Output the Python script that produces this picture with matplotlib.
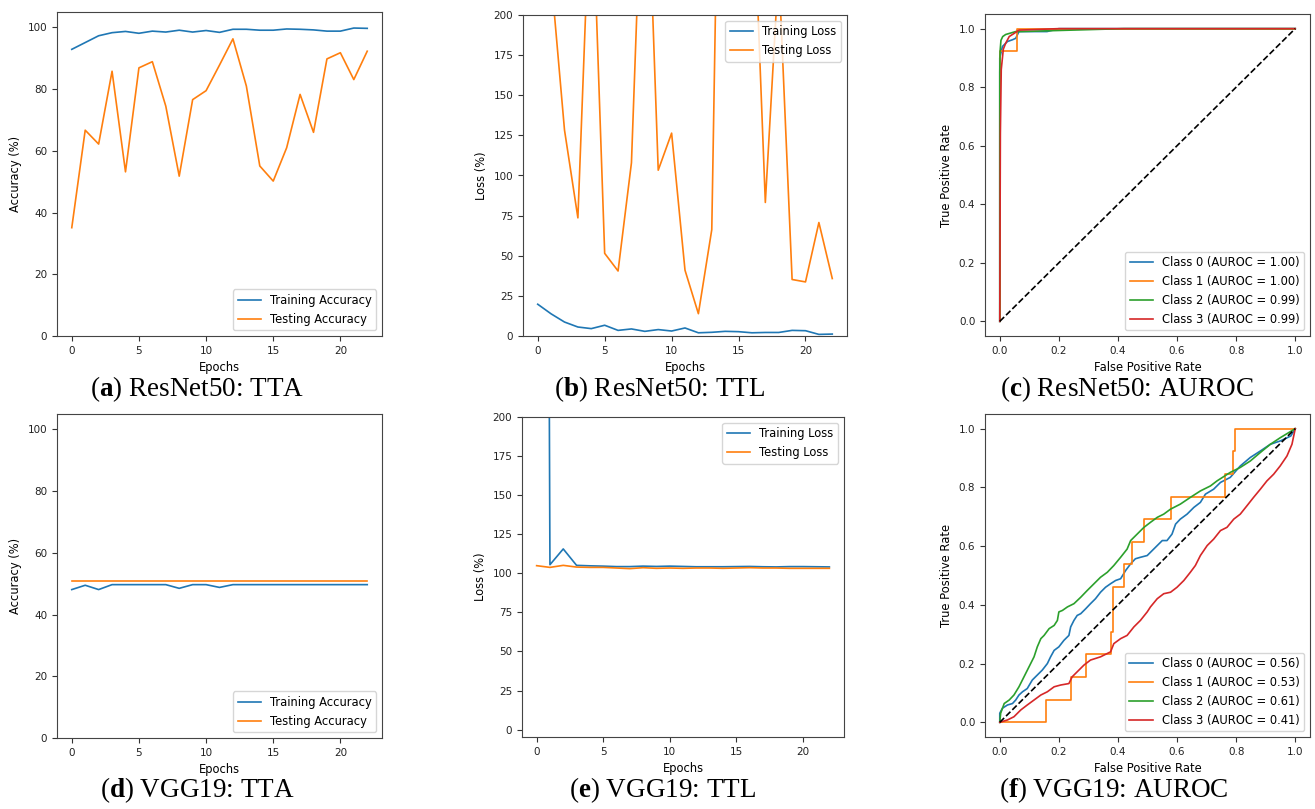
import matplotlib
matplotlib.use('Agg')
import matplotlib.pyplot as plt
import numpy as np

plt.rcParams['font.size'] = 8.3
plt.rcParams['mathtext.fontset'] = 'custom'
plt.rcParams['mathtext.bf'] = 'Liberation Serif:bold'
plt.rcParams['mathtext.rm'] = 'Liberation Serif'

epochs = list(range(23))

# ResNet50
res_train_acc = [92.9, 95.1, 97.3, 98.3, 98.7, 98.1, 98.8, 98.5, 99.1, 98.5, 99.0, 98.4,
                 99.4, 99.4, 99.1, 99.1, 99.5, 99.4, 99.2, 98.8, 98.8, 99.8, 99.7]
res_test_acc = [35.1, 66.7, 62.2, 85.8, 53.2, 86.9, 88.9, 74.5, 51.8, 76.6, 79.5, 87.8,
                96.3, 81.0, 55.1, 50.2, 61.0, 78.3, 66.0, 89.8, 91.8, 83.1, 92.3]
res_train_loss = [19.8, 13.8, 8.7, 5.6, 4.6, 6.7, 3.5, 4.4, 2.9, 4.0, 3.1, 5.0,
                  2.0, 2.3, 2.9, 2.7, 2.0, 2.2, 2.2, 3.5, 3.3, 1.0, 1.2]
res_test_loss = [300, 224, 128.3, 73.6, 295, 51.5, 40.5, 107.9, 340, 103.3, 126.4, 41.0,
                 13.9, 66.3, 560, 420, 300, 83.2, 230, 35.2, 33.7, 70.7, 35.8]

# VGG19
vgg_train_acc = [48.1, 49.5, 48.1, 49.7, 49.7, 49.7, 49.7, 49.7, 48.5, 49.7, 49.7, 48.8,
                 49.7, 49.7, 49.7, 49.7, 49.7, 49.7, 49.7, 49.7, 49.7, 49.7, 49.7]
vgg_test_acc = [50.9] * 23
vgg_train_loss = [2250, 105.5, 115.6, 105.1, 104.8, 104.6, 104.3, 104.3, 104.6, 104.4, 104.6, 104.4,
                  104.2, 104.2, 104.2, 104.3, 104.4, 104.2, 104.1, 104.3, 104.3, 104.2, 104.1]
vgg_test_loss = [104.9, 103.8, 105.1, 104.0, 103.8, 103.8, 103.4, 103.0, 103.6, 103.2, 103.4, 103.2,
                 103.4, 103.4, 103.2, 103.4, 103.6, 103.4, 103.4, 103.2, 103.2, 103.2, 103.2]

# ROC ResNet50
res_auroc = [1.00, 1.00, 0.99, 0.99]
res_fpr0 = [0, 0, 0.009, 0.026, 0.043, 0.054, 0.065, 0.16, 0.2, 1]
res_tpr0 = [0, 0.90, 0.939, 0.956, 0.962, 0.967, 0.99, 0.99, 1.0, 1]
res_fpr1 = [0, 0, 0.057, 0.057, 1]
res_tpr1 = [0, 0.925, 0.925, 1.0, 1]
res_fpr2 = [0, 0, 0.001, 0.004, 0.01, 0.02, 0.054, 0.07, 0.42, 1]
res_tpr2 = [0, 0.85, 0.922, 0.96, 0.973, 0.98, 0.99, 0.99, 1.0, 1]
res_fpr3 = [0, 0.002, 0.005, 0.009, 0.012, 0.02, 0.032, 0.049, 0.065, 0.2, 1]
res_tpr3 = [0, 0.64, 0.86, 0.90, 0.93, 0.95, 0.973, 0.984, 0.995, 1.0, 1]

# ROC VGG19
vgg_auroc = [0.56, 0.53, 0.61, 0.41]
vgg_fpr0 = [0, 0, 0.009, 0.026, 0.043, 0.054, 0.065, 0.077, 0.093, 0.110, 0.127, 0.144, 0.161,
            0.172, 0.184, 0.200, 0.217, 0.234, 0.240, 0.251, 0.262, 0.274, 0.291, 0.307, 0.324,
            0.341, 0.358, 0.375, 0.392, 0.409, 0.426, 0.443, 0.459, 0.476, 0.499, 0.516, 0.533,
            0.550, 0.566, 0.583, 0.595, 0.611, 0.634, 0.657, 0.679, 0.696, 0.724, 0.747, 0.780,
            0.814, 0.848, 0.882, 0.916, 0.949, 0.985, 1]
vgg_tpr0 = [0, 0.031, 0.048, 0.059, 0.064, 0.076, 0.093, 0.104, 0.115, 0.144, 0.161, 0.178, 0.200,
            0.223, 0.245, 0.257, 0.279, 0.296, 0.325, 0.347, 0.364, 0.370, 0.387, 0.404, 0.421,
            0.443, 0.460, 0.472, 0.483, 0.489, 0.517, 0.540, 0.557, 0.562, 0.568, 0.585, 0.602,
            0.619, 0.619, 0.641, 0.675, 0.692, 0.709, 0.732, 0.749, 0.777, 0.794, 0.817, 0.834,
            0.873, 0.902, 0.924, 0.947, 0.958, 0.975, 1]
vgg_fpr1 = [0, 0.158, 0.158, 0.242, 0.242, 0.291, 0.291, 0.375, 0.375, 0.383, 0.383, 0.42, 0.42,
            0.448, 0.448, 0.488, 0.488, 0.581, 0.581, 0.761, 0.761, 0.789, 0.789, 0.797, 0.797, 1]
vgg_tpr1 = [0, 0, 0.077, 0.077, 0.154, 0.154, 0.231, 0.231, 0.308, 0.308, 0.462, 0.462, 0.538,
            0.538, 0.615, 0.615, 0.692, 0.692, 0.769, 0.769, 0.846, 0.846, 0.923, 0.923, 1.0, 1]
vgg_fpr2 = [0, 0.003, 0.015, 0.032, 0.048, 0.065, 0.082, 0.099, 0.116, 0.127, 0.139, 0.150, 0.167,
            0.184, 0.195, 0.200, 0.212, 0.229, 0.251, 0.274, 0.296, 0.319, 0.341, 0.364, 0.386,
            0.409, 0.431, 0.443, 0.465, 0.488, 0.510, 0.533, 0.555, 0.578, 0.611, 0.645, 0.679,
            0.713, 0.735, 0.780, 0.814, 0.848, 0.882, 0.916, 0.949, 1]
vgg_tpr2 = [0, 0.031, 0.064, 0.076, 0.093, 0.121, 0.155, 0.189, 0.223, 0.257, 0.285, 0.296, 0.319,
            0.330, 0.347, 0.376, 0.381, 0.393, 0.404, 0.426, 0.449, 0.472, 0.494, 0.511, 0.534,
            0.562, 0.590, 0.619, 0.641, 0.664, 0.681, 0.698, 0.709, 0.726, 0.743, 0.766, 0.788,
            0.805, 0.822, 0.851, 0.868, 0.890, 0.919, 0.947, 0.969, 1]
vgg_fpr3 = [0, 0.026, 0.048, 0.071, 0.093, 0.116, 0.139, 0.161, 0.184, 0.206, 0.234, 0.245, 0.262,
            0.285, 0.307, 0.341, 0.375, 0.386, 0.409, 0.431, 0.454, 0.476, 0.499, 0.510, 0.533,
            0.555, 0.578, 0.600, 0.623, 0.645, 0.662, 0.679, 0.702, 0.724, 0.747, 0.769, 0.792,
            0.814, 0.837, 0.859, 0.882, 0.904, 0.927, 0.949, 0.972, 0.989, 1]
vgg_tpr3 = [0, 0.008, 0.019, 0.042, 0.059, 0.076, 0.093, 0.104, 0.121, 0.127, 0.132, 0.155, 0.172,
            0.195, 0.212, 0.223, 0.240, 0.268, 0.285, 0.296, 0.325, 0.347, 0.376, 0.393, 0.421,
            0.438, 0.443, 0.460, 0.483, 0.511, 0.534, 0.568, 0.602, 0.624, 0.653, 0.664, 0.692,
            0.709, 0.738, 0.766, 0.794, 0.822, 0.845, 0.873, 0.907, 0.947, 1]

captions = [('a', 'ResNet50: TTA'), ('b', 'ResNet50: TTL'), ('c', 'ResNet50: AUROC'),
            ('d', 'VGG19: TTA'), ('e', 'VGG19: TTL'), ('f', 'VGG19: AUROC')]

W, H = 1315, 809
fig = plt.figure(figsize=(W / 100, H / 100), dpi=100)


def box(l, t, r, b):
    return [l / W, 1 - b / H, (r - l) / W, (b - t) / H]


def style(ax):
    for s in ax.spines.values():
        s.set_color('#444444')
    ax.tick_params(labelsize=7.5, colors='#333333', labelcolor='#222222')


def plot_acc(ax, tr, te):
    ax.plot(epochs, tr, lw=1.2, label='Training Accuracy')
    ax.plot(epochs, te, lw=1.2, label='Testing Accuracy')
    ax.set_ylim(0, 105)
    ax.set_xlabel('Epochs')
    ax.set_ylabel('Accuracy (%)')
    ax.legend(loc='lower right')
    style(ax)


def plot_loss(ax, tr, te, ylim):
    ax.plot(epochs, tr, lw=1.2, label='Training Loss')
    ax.plot(epochs, te, lw=1.2, label='Testing Loss')
    ax.set_ylim(*ylim)
    ax.set_xlabel('Epochs')
    ax.set_ylabel('Loss (%)')
    ax.legend(loc='upper right')
    style(ax)


def plot_roc(ax, fprs, tprs, aucs):
    for i, (f, t, a) in enumerate(zip(fprs, tprs, aucs)):
        ax.plot(f, t, lw=1.2, label=f'Class {i} (AUROC = {a:.2f})')
    ax.plot([0, 1], [0, 1], 'k--', lw=1.2)
    ax.set_xlabel('False Positive Rate')
    ax.set_ylabel('True Positive Rate')
    ax.legend(loc='lower right')
    style(ax)


ax_a = fig.add_axes(box(57, 12, 382, 336))
plot_acc(ax_a, res_train_acc, res_test_acc)
ax_b = fig.add_axes(box(523, 15, 847, 336))
plot_loss(ax_b, res_train_loss, res_test_loss, (0, 200))
ax_c = fig.add_axes(box(985, 14, 1310, 336))
plot_roc(ax_c, [res_fpr0, res_fpr1, res_fpr2, res_fpr3],
         [res_tpr0, res_tpr1, res_tpr2, res_tpr3], res_auroc)

ax_d = fig.add_axes(box(57, 414, 382, 738))
plot_acc(ax_d, vgg_train_acc, vgg_test_acc)
ax_e = fig.add_axes(box(522, 417, 844, 737))
plot_loss(ax_e, vgg_train_loss, vgg_test_loss, (-4.7, 200))
ax_f = fig.add_axes(box(985, 414, 1310, 737))
plot_roc(ax_f, [vgg_fpr0, vgg_fpr1, vgg_fpr2, vgg_fpr3],
         [vgg_tpr0, vgg_tpr1, vgg_tpr2, vgg_tpr3], vgg_auroc)

cap_x = [197, 660, 1127, 197, 662, 1114]
cap_y = [389, 389, 389, 790, 790, 790]
for (lt, txt), cx, cy in zip(captions, cap_x, cap_y):
    fig.text(cx / W, 1 - cy / H, r'($\mathbf{' + lt + r'}$) ' + txt,
             ha='center', va='center', fontsize=19.5, family='Liberation Serif')

fig.savefig('out.png', dpi=100)
